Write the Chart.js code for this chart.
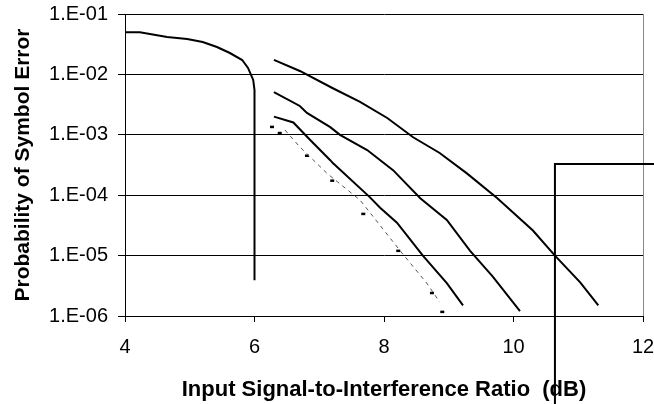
<!DOCTYPE html>
<html>
<head>
<meta charset="utf-8">
<script src="https://cdn.jsdelivr.net/npm/chart.js@4/dist/chart.umd.min.js"></script>
<style>
  html, body { margin: 0; padding: 0; background: #fff; }
  #wrap { width: 654px; height: 404px; }
</style>
</head>
<body>
<div id="wrap"><canvas id="chart" width="654" height="404"></canvas></div>
<script>
// tick labels
const xTicks = [4, 6, 8, 10, 12]
const yTickValues = [1e-6, 1e-5, 1e-4, 1e-3, 1e-2, 1e-1]
const yTickLabels = ['1.E-06', '1.E-05', '1.E-04', '1.E-03', '1.E-02', '1.E-01']

// leftmost curve (drops straight down at 6 dB)
const curveLeftX = [4.0, 4.23, 4.65, 4.96, 5.20, 5.42, 5.62, 5.81, 5.90, 5.98, 6.0, 6.0]
const curveLeftY = [0.050, 0.050, 0.0416, 0.0385, 0.0344, 0.0284, 0.0226, 0.0173, 0.0128, 0.0081, 0.0055, 3.9e-6]

// upper right curve
const curveAX = [6.30, 6.70, 7.21, 7.63, 8.05, 8.45, 8.86, 9.28, 9.75, 10.30, 10.64, 11.03, 11.31]
const curveAY = [0.0174, 0.0114, 0.0059, 0.0035, 0.0019, 9.1e-4, 5.0e-4, 2.3e-4, 8.9e-5, 2.6e-5, 1.0e-5, 3.6e-6, 1.5e-6]

// middle curve
const curveBX = [6.30, 6.70, 6.81, 7.17, 7.32, 7.74, 8.14, 8.56, 8.97, 9.33, 9.68, 10.10]
const curveBY = [0.0051, 0.0030, 0.0023, 0.00134, 1.0e-3, 5.6e-4, 2.6e-4, 8.9e-5, 3.9e-5, 1.2e-5, 4.5e-6, 1.2e-6]

// lower solid curve
const curveCX = [6.30, 6.60, 6.86, 7.17, 7.21, 7.78, 7.94, 8.20, 8.60, 8.97, 9.22]
const curveCY = [0.0020, 1.6e-3, 8.2e-4, 3.8e-4, 3.4e-4, 9.3e-5, 6.2e-5, 3.5e-5, 1.0e-5, 3.5e-6, 1.5e-6]

// dashed reference curve
const dashedX = [6.47, 6.70, 7.12, 7.63, 8.25, 8.66, 8.86]
const dashedY = [1.2e-3, 6.3e-4, 2.3e-4, 8.3e-5, 1.2e-5, 3.5e-6, 1.7e-6]

// marker points
const markX = [6.27, 6.39, 6.81, 7.20, 7.68, 8.22, 8.74, 8.90]
const markY = [1.35e-3, 1.07e-3, 4.5e-4, 1.74e-4, 4.9e-5, 1.2e-5, 2.4e-6, 1.17e-6]

// bracket line running off the plot
const bracketX = [10.64, 10.64, 12.3]
const bracketY = [1e-8, 3.3e-4, 3.3e-4]

function toPoints(xs, ys) {
    return xs.map((x, i) => ({ x: x, y: ys[i] }))
}

function solid(xs, ys) {
    return {
        data: toPoints(xs, ys),
        borderColor: '#000',
        borderWidth: 2,
        pointRadius: 0,
        tension: 0,
        fill: false
    }
}

// labels are allowed to hang over the plot edges, like the original
function noOverhang(axis) {
    axis.paddingTop = 0
    axis.paddingBottom = 0
    axis.paddingLeft = 0
    axis.paddingRight = 0
}

const FONT = "'Liberation Sans', Arial, sans-serif"

const datasets = [
    solid(curveLeftX, curveLeftY),
    solid(curveAX, curveAY),
    solid(curveBX, curveBY),
    solid(curveCX, curveCY),
    {
        data: toPoints(dashedX, dashedY),
        borderColor: '#555',
        borderWidth: 1,
        borderDash: [4, 4],
        pointRadius: 0,
        tension: 0
    },
    {
        data: toPoints(markX, markY),
        showLine: false,
        pointStyle: 'line',
        pointRadius: 2,
        pointBorderWidth: 2.5,
        pointBorderColor: '#000',
        pointBackgroundColor: '#000'
    },
    {
        data: toPoints(bracketX, bracketY),
        borderColor: '#000',
        borderWidth: 2,
        pointRadius: 0,
        tension: 0,
        clip: false
    }
]

new Chart(document.getElementById('chart'), {
    type: 'line',
    data: { datasets: datasets },
    options: {
        responsive: false,
        animation: false,
        layout: { padding: { top: 14, right: 11, left: 0, bottom: 0 } },
        plugins: {
            legend: { display: false },
            tooltip: { enabled: false }
        },
        scales: {
            x: {
                type: 'linear',
                min: 4,
                max: 12,
                afterBuildTicks: (axis) => {
                    axis.ticks = xTicks.map(v => ({ value: v }))
                },
                afterFit: (axis) => {
                    axis.height = 88
                    noOverhang(axis)
                },
                border: { color: '#000', width: 1 },
                grid: {
                    color: (ctx) => ctx.tick && ctx.tick.value === 12 ? '#888' : 'rgba(0,0,0,0)',
                    tickColor: '#000',
                    tickLength: 6,
                    lineWidth: 1
                },
                ticks: {
                    color: '#000',
                    padding: 13,
                    maxRotation: 0,
                    font: { family: FONT, size: 20 },
                    callback: (v) => String(v)
                },
                title: {
                    display: true,
                    text: 'Input Signal-to-Interference Ratio  (dB)',
                    color: '#000',
                    padding: { top: 0, bottom: 1 },
                    font: { family: FONT, size: 22, weight: 'bold' }
                }
            },
            y: {
                type: 'logarithmic',
                min: 1e-6,
                max: 1e-1,
                afterBuildTicks: (axis) => {
                    axis.ticks = yTickValues.map(v => ({ value: v, major: true }))
                },
                afterFit: (axis) => {
                    axis.width = 125
                    noOverhang(axis)
                },
                border: { color: '#000', width: 1 },
                grid: {
                    color: '#000',
                    tickColor: '#000',
                    tickLength: 7,
                    lineWidth: 1
                },
                ticks: {
                    color: '#000',
                    padding: 10,
                    font: { family: FONT, size: 20 },
                    callback: (v) => {
                        const i = yTickValues.findIndex(t => Math.abs(Math.log10(t) - Math.log10(v)) < 1e-6)
                        return i >= 0 ? yTickLabels[i] : ''
                    }
                },
                title: {
                    display: true,
                    text: 'Probability of Symbol Error',
                    color: '#000',
                    padding: { top: 11, bottom: 0 },
                    font: { family: FONT, size: 21, weight: 'bold' }
                }
            }
        }
    }
})
</script>
</body>
</html>
